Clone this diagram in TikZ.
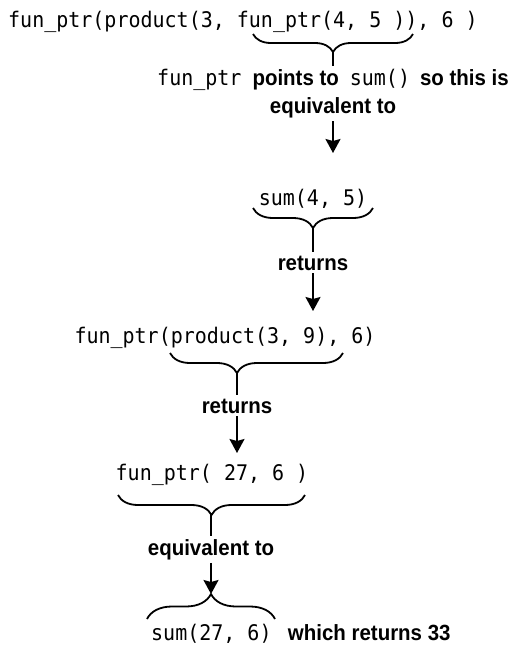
\documentclass[tikz,border=0pt]{standalone}
\usepackage{fontspec}
\usetikzlibrary{arrows.meta,decorations.pathreplacing}
\newfontfamily\monofam[FakeStretch=0.93]{DejaVu Sans Mono}
\newfontfamily\sansfam[FakeStretch=0.93]{Liberation Sans}
\newcommand\codetxt[1]{{\fontsize{21.5}{28}\selectfont\monofam\mdseries #1}}
\tikzset{
  code/.style={font=\fontsize{21.5}{24}\selectfont\monofam, inner sep=0pt, anchor=base},
  note/.style={font=\fontsize{22}{28}\selectfont\sansfam\bfseries, inner sep=3pt, align=center},
  curly/.style={decorate, decoration={brace, amplitude=#1}, line width=1.8pt},
  curly/.default=20pt,
  stem/.style={line width=1.8pt},
  down/.style={line width=1.8pt, -{Stealth[length=14pt,width=15pt,inset=2pt]}}
}
\begin{document}
\begin{tikzpicture}[x=1pt, y=-1pt, line cap=butt, line join=round]
  \useasboundingbox (0,0) rectangle (514,646);

  % first call
  \node[code, anchor=base west] (expr1) at (8,27) {fun\_ptr(product(3, fun\_ptr(4, 5 )), 6 )};
  \draw[curly=18pt, decoration={mirror}] (253,34) -- (413,34);
  \coordinate (tip1) at (333,52);
  \node[note, anchor=north] (why) at (333,66)
    {\codetxt{fun\_ptr}\hspace{11pt}points to\hspace{11pt}\codetxt{sum()}\hspace{10pt}so this is\\equivalent to};
  \draw[stem] (tip1) -- (why.north);
  \coordinate (a1) at (333,153);
  \draw[down] (why.south) -- (a1);

  % sum(4, 5)
  \node[code] (sum1) at (313,205) {sum(4, 5)};
  \draw[curly, decoration={mirror}] (253,208) -- (373,208);
  \coordinate (tip2) at (313,228);
  \node[note, anchor=base] (ret1) at (313,270) {returns};
  \draw[stem] (tip2) -- (ret1.north);
  \coordinate (a2) at (313,311);
  \draw[down] (ret1.south) -- (a2);

  % product(3, 9)
  \node[code] (expr2) at (225,343) {fun\_ptr(product(3, 9), 6)};
  \draw[curly, decoration={mirror, aspect=0.387}] (170,353) -- (343,353);
  \coordinate (tip3) at (237,373);
  \node[note, anchor=base] (ret2) at (237,413) {returns};
  \draw[stem] (tip3) -- (ret2.north);
  \coordinate (a3) at (237,453);
  \draw[down] (ret2.south) -- (a3);

  % fun_ptr(27, 6)
  \node[code] (expr3) at (212,480) {fun\_ptr( 27, 6 )};
  \draw[curly, decoration={mirror}] (118,495) -- (305,495);
  \coordinate (tip4) at (211,515);
  \node[note, anchor=base] (equiv) at (211,555) {equivalent to};
  \draw[stem] (tip4) -- (equiv.north);

  % last step
  \draw[curly=25pt] (147,619) -- (275,619);
  \coordinate (tip5) at (211,594);
  \draw[down] (equiv.south) -- (tip5);
  \node[code, anchor=base west] (sum2) at (151,640) {sum(27, 6)};
  \node[note, anchor=base west, xshift=13pt] (res) at (sum2.base east) {which returns 33};
\end{tikzpicture}
\end{document}
